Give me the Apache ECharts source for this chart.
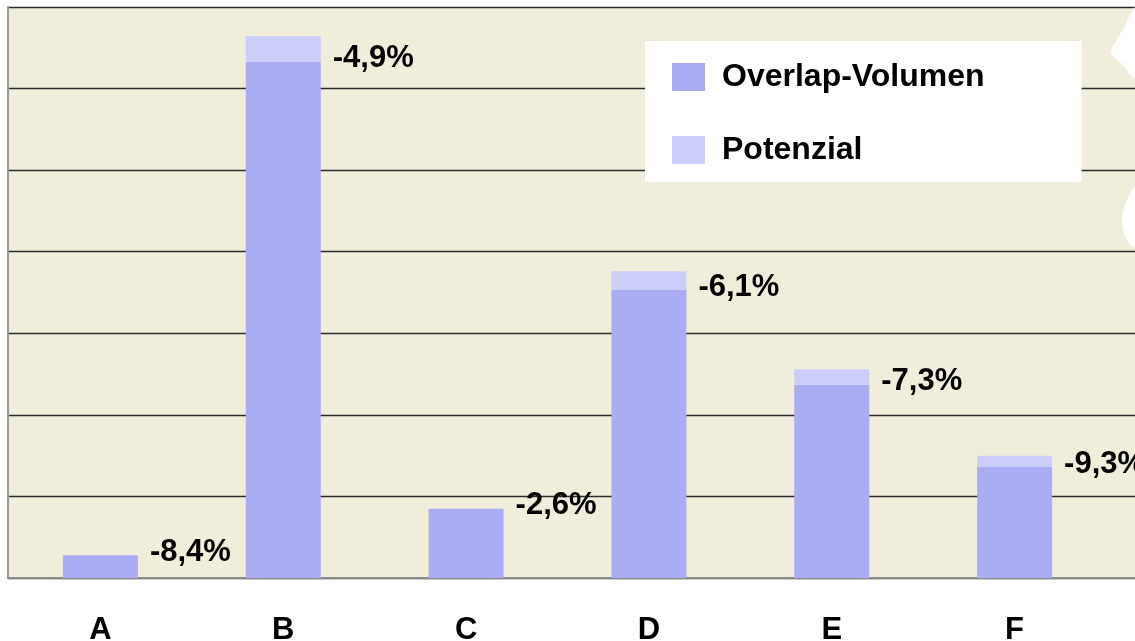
<!DOCTYPE html>
<html>
<head>
<meta charset="utf-8">
<style>
html,body{margin:0;padding:0;background:#ffffff;}
#chart{width:1135px;height:641px;}
</style>
<script src="https://cdn.jsdelivr.net/npm/echarts@6/dist/echarts.min.js"></script>
</head>
<body>
<div id="chart"></div>
<script>
// Data (arbitrary units: one gridline step = 1)
var categories = ['A', 'B', 'C', 'D', 'E', 'F'];
var overlapVolumen = [0.28, 6.33, 0.85, 3.53, 2.37, 1.36];
var potenzial = [0, 0.31, 0, 0.23, 0.19, 0.14];
var changeLabels = ['-8,4%', '-4,9%', '-2,6%', '-6,1%', '-7,3%', '-9,3%'];
var yTicks = [0, 1, 2, 3, 4, 5, 6, 7];

var FONT = '"Liberation Sans", Arial, sans-serif';
var chart = echarts.init(document.getElementById('chart'));

var option = {
  animation: false,
  backgroundColor: '#ffffff',
  legend: {
    orient: 'vertical',
    left: 645,
    top: 41,
    backgroundColor: '#ffffff',
    padding: [20, 97, 16, 27],
    itemWidth: 33,
    itemHeight: 28,
    itemGap: 41,
    icon: 'rect',
    textStyle: {
      fontFamily: FONT,
      fontWeight: 'bold',
      fontSize: 32,
      lineHeight: 32,
      color: '#000000',
      padding: [0, 0, 0, 12]
    },
    data: ['Overlap-Volumen', 'Potenzial']
  },
  grid: [
    { left: 9, right: 29, top: 7, bottom: 63, containLabel: false, outerBoundsMode: 'none' },
    { left: 8, right: 0, top: 7, bottom: 63, show: true, backgroundColor: '#f0eedb', borderWidth: 0, outerBoundsMode: 'none' }
  ],
  xAxis: [
    {
      type: 'category',
      gridIndex: 0,
      data: categories,
      boundaryGap: true,
      axisLine: { show: false },
      axisTick: { show: false },
      axisLabel: {
        margin: 37,
        fontFamily: FONT,
        fontWeight: 'bold',
        fontSize: 31,
        lineHeight: 31,
        color: '#000000'
      },
      z: 5
    },
    {
      type: 'value',
      gridIndex: 1,
      min: 0, max: 1,
      axisLine: { show: true, lineStyle: { color: '#8a8a8a', width: 2 } },
      axisTick: { show: false },
      axisLabel: { show: false },
      splitLine: { show: false }
    }
  ],
  yAxis: [
    {
      type: 'value',
      gridIndex: 0,
      min: yTicks[0],
      max: yTicks[yTicks.length - 1],
      interval: 1,
      axisLine: { show: false },
      axisTick: { show: false },
      axisLabel: { show: false },
      splitLine: { show: false }
    },
    {
      type: 'value',
      gridIndex: 1,
      min: yTicks[0],
      max: yTicks[yTicks.length - 1],
      interval: 1,
      axisLine: { show: true, lineStyle: { color: '#9a9a9a', width: 2 } },
      axisTick: { show: false },
      axisLabel: { show: false },
      splitLine: { show: true, lineStyle: { color: '#2b2b2b', width: 1.3 } }
    }
  ],
  series: [
    {
      name: 'Overlap-Volumen',
      type: 'bar',
      xAxisIndex: 0,
      yAxisIndex: 0,
      stack: 'total',
      barWidth: 75,
      itemStyle: { color: '#aaadf3' },
      data: overlapVolumen,
      label: {
        show: true,
        position: ['100%', 0],
        offset: [12, -3],
        align: 'left',
        verticalAlign: 'middle',
        fontFamily: FONT,
        fontWeight: 'bold',
        fontSize: 31,
        color: '#000000',
        formatter: function (p) { return changeLabels[p.dataIndex]; }
      },
      z: 3
    },
    {
      name: 'Potenzial',
      type: 'bar',
      xAxisIndex: 0,
      yAxisIndex: 0,
      stack: 'total',
      barWidth: 75,
      itemStyle: { color: '#cdcdf9' },
      data: potenzial,
      z: 3
    }
  ],
  graphic: [
    {
      type: 'polygon',
      shape: { points: [[1135, 8], [1124, 28], [1111, 52], [1122, 64], [1135, 78]], smooth: 0.3 },
      style: { fill: '#ffffff' },
      z: 10
    },
    {
      type: 'polygon',
      shape: { points: [[1135, 188], [1125, 205], [1122, 222], [1126, 238], [1135, 247]], smooth: 0.3 },
      style: { fill: '#ffffff' },
      z: 10
    }
  ]
};
chart.setOption(option);
</script>
</body>
</html>
